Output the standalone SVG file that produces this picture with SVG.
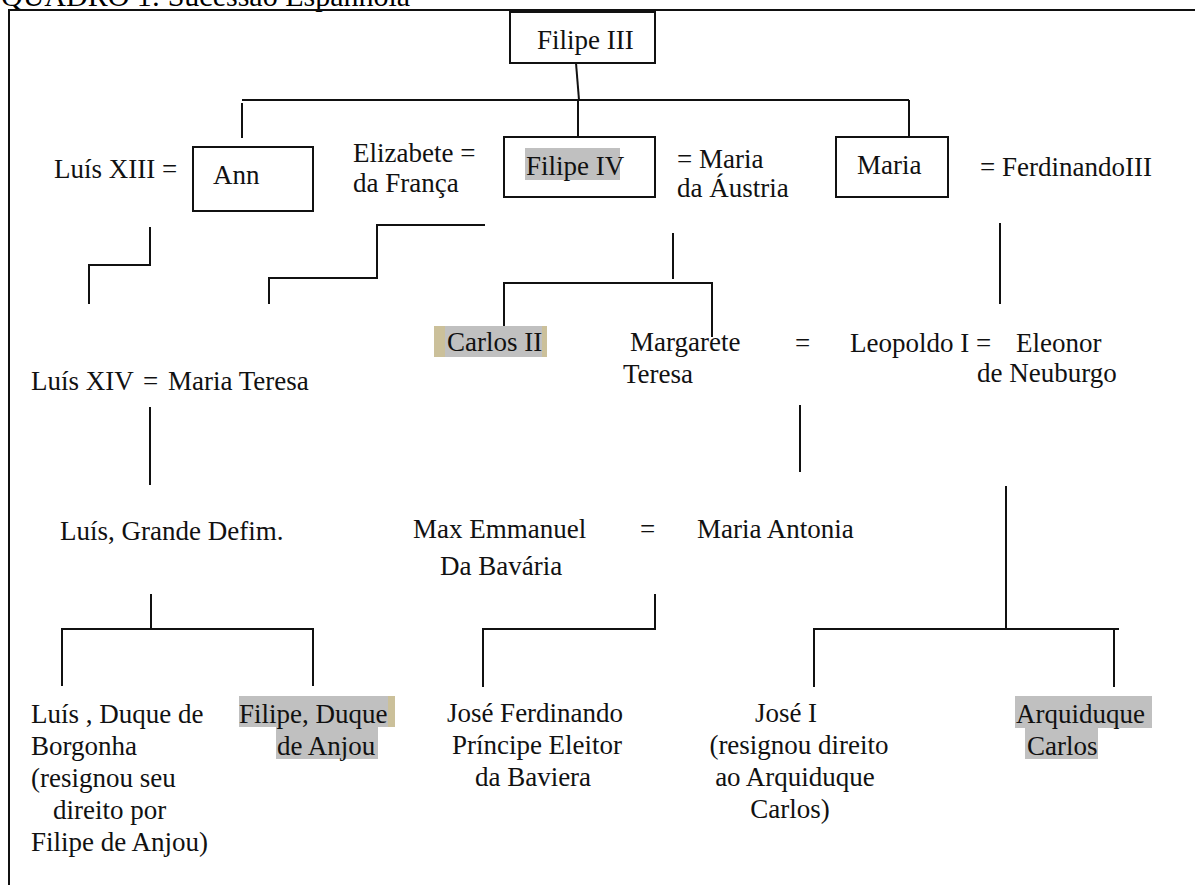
<svg xmlns="http://www.w3.org/2000/svg" width="1195" height="885" viewBox="0 0 1195 885">
<style>
text{font-family:"Liberation Serif","Times New Roman",serif;font-size:27px;fill:#111}
.t{font-size:30px;fill:#000}
.c{text-anchor:middle}
.ln{fill:none;stroke:#111;stroke-width:2}
.box{fill:#fff;stroke:#111;stroke-width:2}
.hl{fill:#c0c0c0}
.tan{fill:#cbc09a}
</style>
<rect width="1195" height="885" fill="#fff"/>
<text class="t" x="1" y="6">QUADRO 1: Sucessão Espanhola</text>
<path class="ln" d="M9,885 V10 H1195"/>
<g id="connectors">
<path class="ln" d="M576,63 L579,100"/>
<path class="ln" d="M242,100 H909"/>
<path class="ln" d="M242,103 V138"/>
<path class="ln" d="M578,100 V137"/>
<path class="ln" d="M909,100 V137"/>
<path class="ln" d="M150,227 V265 H89 V304"/>
<path class="ln" d="M485,225 H377 V278 H269 V304"/>
<path class="ln" d="M673,233 V279"/>
<path class="ln" d="M504,337 V283 H712 V337"/>
<path class="ln" d="M1000,223 V304"/>
<path class="ln" d="M150,407 V485"/>
<path class="ln" d="M800,405 V472"/>
<path class="ln" d="M151,594 V629"/>
<path class="ln" d="M62,686 V629 H313 V686"/>
<path class="ln" d="M655,594 V629 H483 V687"/>
<path class="ln" d="M1006,486 V629"/>
<path class="ln" d="M814,687 V629 H1119"/>
<path class="ln" d="M1114,629 V687"/>
</g>
<g id="filipe3">
<rect class="box" x="510" y="12" width="145" height="51"/>
<text x="537" y="49">Filipe III</text>
</g>
<g id="luis13">
<text x="54" y="178">Luís XIII =</text>
</g>
<g id="ann">
<rect class="box" x="193" y="147" width="120" height="64"/>
<text x="213" y="184">Ann</text>
</g>
<g id="elizabete">
<text x="353" y="162">Elizabete =</text>
<text x="353" y="192">da França</text>
</g>
<g id="filipe4">
<rect class="box" x="504" y="137" width="151" height="60"/>
<rect class="hl" x="525" y="148" width="95" height="32"/>
<text x="526" y="175">Filipe IV</text>
</g>
<g id="maria-austria">
<text x="677" y="168">= Maria</text>
<text x="677" y="197">da Áustria</text>
</g>
<g id="maria">
<rect class="box" x="836" y="137" width="112" height="60"/>
<text x="857" y="174">Maria</text>
</g>
<g id="ferdinando3">
<text x="980" y="176">= FerdinandoIII</text>
</g>
<g id="luis14">
<text x="31" y="390">Luís XIV</text>
<text x="143" y="390">=</text>
<text x="168" y="390">Maria Teresa</text>
</g>
<g id="carlos2">
<rect class="tan" x="434" y="326" width="113" height="31"/>
<rect class="hl" x="445" y="326" width="97" height="31"/>
<text x="447" y="351">Carlos II</text>
</g>
<g id="margarete">
<text x="630" y="351">Margarete</text>
<text x="623" y="383">Teresa</text>
<text x="795" y="352">=</text>
</g>
<g id="leopoldo">
<text x="850" y="352">Leopoldo I =</text>
<text x="1016" y="352">Eleonor</text>
<text x="977" y="382">de Neuburgo</text>
</g>
<g id="grande-delfim">
<text x="60" y="540">Luís, Grande Defim.</text>
</g>
<g id="max-emmanuel">
<text x="413" y="538">Max Emmanuel</text>
<text x="440" y="575">Da Bavária</text>
<text x="640" y="538">=</text>
<text x="697" y="538">Maria Antonia</text>
</g>
<g id="luis-borgonha">
<text x="31" y="723">Luís , Duque de</text>
<text x="31" y="755">Borgonha</text>
<text x="31" y="787">(resignou seu</text>
<text x="53" y="819">direito por</text>
<text x="31" y="851">Filipe de Anjou)</text>
</g>
<g id="filipe-anjou">
<rect class="tan" x="239" y="696" width="156" height="31"/>
<rect class="hl" x="239" y="696" width="149" height="31"/>
<rect class="hl" x="276" y="727" width="102" height="32"/>
<text x="239" y="723">Filipe, Duque</text>
<text x="277" y="755">de Anjou</text>
</g>
<g id="jose-ferdinando">
<text class="c" x="535" y="722">José Ferdinando</text>
<text class="c" x="537" y="754">Príncipe Eleitor</text>
<text class="c" x="533" y="786">da Baviera</text>
</g>
<g id="jose1">
<text class="c" x="786" y="722">José I</text>
<text class="c" x="799" y="754">(resignou direito</text>
<text class="c" x="795" y="786">ao Arquiduque</text>
<text class="c" x="790" y="818">Carlos)</text>
</g>
<g id="arquiduque">
<rect class="hl" x="1015" y="696" width="137" height="32"/>
<rect class="hl" x="1025" y="728" width="73" height="31"/>
<text x="1016" y="723">Arquiduque</text>
<text x="1027" y="755">Carlos</text>
</g>
</svg>
